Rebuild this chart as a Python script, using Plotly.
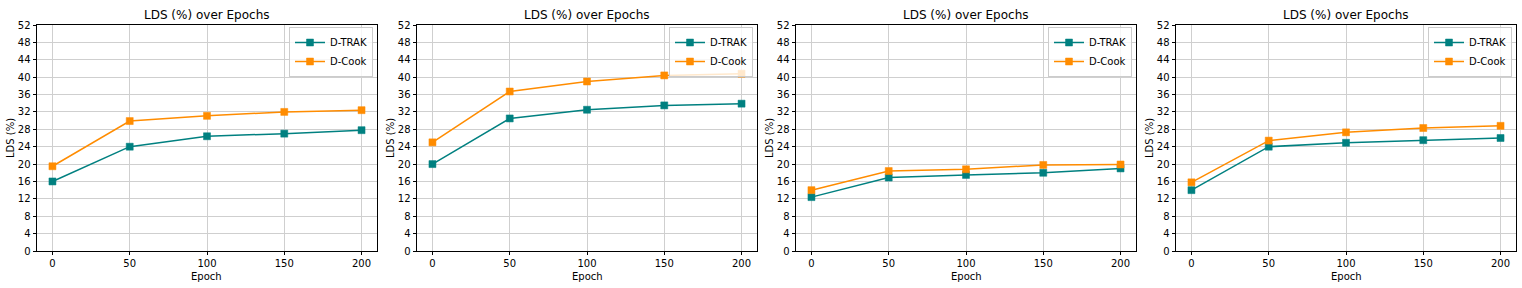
import plotly.graph_objects as go

epochs = [0, 50, 100, 150, 200]
dtrak = [
    [16.0, 24.0, 26.4, 27.0, 27.8],
    [20.0, 30.5, 32.5, 33.5, 33.9],
    [12.4, 16.9, 17.5, 18.0, 19.0],
    [14.0, 24.0, 24.9, 25.5, 26.0],
]
dcook = [
    [19.5, 29.9, 31.1, 32.0, 32.4],
    [25.0, 36.7, 39.0, 40.4, 40.8],
    [14.0, 18.4, 18.8, 19.8, 19.9],
    [15.8, 25.4, 27.3, 28.3, 28.8],
]
series_names = ["D-TRAK", "D-Cook"]
colors = ["#008080", "#FF8C00"]
title_text = "LDS (%) over Epochs"
xlabel = "Epoch"
ylabel = "LDS (%)"
yticks = list(range(0, 53, 4))
xticks = [0, 50, 100, 150, 200]

W, H = 1522, 288
panels_px = [(37, 377), (417, 757), (796, 1136), (1176, 1516)]
top_px, bot_px = 25, 251
FONT = "DejaVu Sans"

fig = go.Figure()
annotations = []
layout = {}
for i, (x0, x1) in enumerate(panels_px):
    sfx = "" if i == 0 else str(i + 1)
    legname = "legend" if i == 0 else f"legend{i+1}"
    for name, vals, col in zip(series_names, [dtrak[i], dcook[i]], colors):
        fig.add_trace(go.Scatter(
            x=epochs, y=vals, name=name, mode="lines+markers",
            line=dict(color=col, width=1.5),
            marker=dict(symbol="square", size=7, color=col, line=dict(color=col, width=0.5)),
            xaxis="x" + sfx, yaxis="y" + sfx, legend=legname,
        ))
    layout["xaxis" + sfx] = dict(
        domain=[x0 / W, x1 / W], anchor="y" + sfx, range=[-10, 210],
        tickvals=xticks, ticks="outside", ticklen=3.5, tickwidth=0.8, tickcolor="black",
        showline=True, linecolor="black", linewidth=0.8, mirror=True,
        showgrid=True, gridcolor="#cfcfcf", gridwidth=1, zeroline=False,
        tickfont=dict(family=FONT, size=10, color="black"),
    )
    layout["yaxis" + sfx] = dict(
        domain=[1 - bot_px / H, 1 - top_px / H], anchor="x" + sfx, range=[0, 52],
        tickvals=yticks, ticks="outside", ticklen=3.5, tickwidth=0.8, tickcolor="black",
        showline=True, linecolor="black", linewidth=0.8, mirror=True,
        showgrid=True, gridcolor="#cfcfcf", gridwidth=1, zeroline=False,
        tickfont=dict(family=FONT, size=10, color="black"),
    )
    layout[legname] = dict(
        x=(x1 - 4) / W, xanchor="right", y=1 - 27 / H, yanchor="top",
        bgcolor="rgba(255,255,255,0.8)", bordercolor="#cccccc", borderwidth=1,
        font=dict(family=FONT, size=10, color="black"),
        itemwidth=30, tracegroupgap=0,
    )
    xc = (x0 + x1) / 2 / W
    annotations.append(dict(text=title_text, x=xc, y=1 - 15 / H, xref="paper", yref="paper",
                            showarrow=False, xanchor="center", yanchor="middle",
                            font=dict(family=FONT, size=12, color="black")))
    annotations.append(dict(text=xlabel, x=xc, y=1 - 276 / H, xref="paper", yref="paper",
                            showarrow=False, xanchor="center", yanchor="middle",
                            font=dict(family=FONT, size=10, color="black")))
    annotations.append(dict(text=ylabel, x=(x0 - 27) / W, y=1 - 138 / H, xref="paper", yref="paper",
                            showarrow=False, xanchor="center", yanchor="middle", textangle=-90,
                            font=dict(family=FONT, size=10, color="black")))

fig.update_layout(
    width=W, height=H, margin=dict(l=0, r=0, t=0, b=0, autoexpand=False),
    paper_bgcolor="white", plot_bgcolor="white",
    annotations=annotations, showlegend=True, **layout,
)
fig.write_html(
    "out.html",
    config={"displayModeBar": False},
    post_script="document.body.style.margin='0';document.body.style.overflow='hidden';",
)
